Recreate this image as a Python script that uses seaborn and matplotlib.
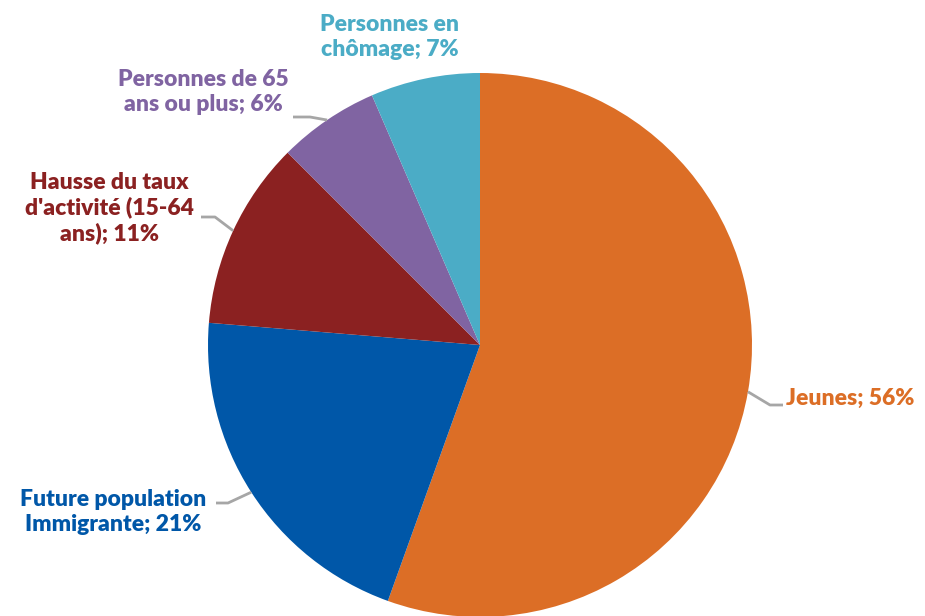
import numpy as np
import matplotlib
matplotlib.use("Agg")
from matplotlib import pyplot as plt
import seaborn as sns

# Données (parts en %)
categories = ["Jeunes", "Future population\nImmigrante", "Hausse du taux\nd'activité (15-64\nans)",
              "Personnes de 65\nans ou plus", "Personnes en\nchômage"]
parts = [55.5, 20.8, 11.2, 6.0, 6.5]
etiquettes = ["56%", "21%", "11%", "6%", "7%"]
couleurs = ["#DC6E26", "#0057A8", "#8B2121", "#8064A2", "#4BACC6"]


def px(x, y):
    """pixels de l'image -> coordonnées des données"""
    return (x - 480) / 272, (345 - y) / 272


def main():
    sns.set_theme(style="white")
    plt.rcParams["font.family"] = ["Lato", "DejaVu Sans"]

    fig = plt.figure(figsize=(9.25, 6.16), dpi=100)
    ax = fig.add_axes([0, 0, 1, 1])
    wedges, _ = ax.pie(parts, colors=couleurs, startangle=90, counterclock=False,
                       radius=1, center=(0, 0), wedgeprops=dict(linewidth=0))
    ax.set_xlim(px(0, 0)[0], px(925, 0)[0])
    ax.set_ylim(px(0, 616)[1], px(0, 0)[1])
    ax.set_aspect("equal")
    ax.axis("off")

    # position du texte, alignement, coude du trait de rappel, bout du trait
    place = [
        ((786, 398), "left", (770, 405), (783, 405)),
        ((113, 512), "center", (228, 503), (216, 503)),
        ((109, 208), "center", (215, 217), (201, 217)),
        ((203, 92), "center", (310, 117), (293, 117)),
        ((390, 37), "center", None, None),
    ]
    for w, cat, lab, c, (pos, ha, coude, bout) in zip(wedges, categories, etiquettes, couleurs, place):
        texte = cat.replace("\n", " ") if ha == "left" else cat
        ax.text(*px(*pos), f"{texte}; {lab}", ha=ha, va="center", color=c,
                fontsize=16.5, fontweight="heavy", linespacing=1.22)
        if coude is not None:
            ang = np.deg2rad((w.theta1 + w.theta2) / 2)
            xs = [np.cos(ang), px(*coude)[0], px(*bout)[0]]
            ys = [np.sin(ang), px(*coude)[1], px(*bout)[1]]
            ax.plot(xs, ys, color="#A6A6A6", lw=2, solid_capstyle="butt")

    fig.savefig("out.png", dpi=100)


if __name__ == "__main__":
    main()
